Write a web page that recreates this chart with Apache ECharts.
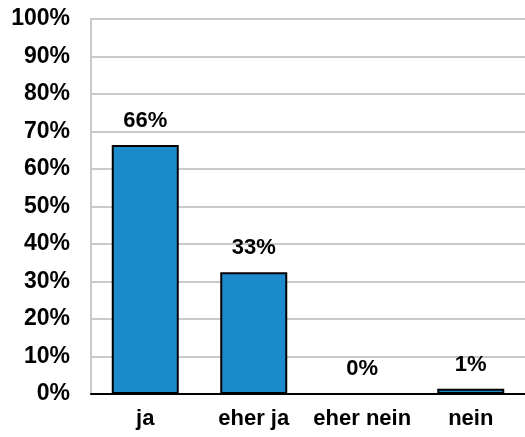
<!DOCTYPE html>
<html>
<head>
<meta charset="utf-8">
<script src="https://cdn.jsdelivr.net/npm/echarts@6/dist/echarts.min.js"></script>
<style>
  html, body { margin: 0; padding: 0; background: #fff; }
  #chart { width: 525px; height: 437px; }
</style>
</head>
<body>
<div id="chart"></div>
<script>
// Antworten
const categories = ['ja', 'eher ja', 'eher nein', 'nein'];
const values = [66.4, 32.5, 0, 1.4];
const valueLabels = ['66%', '33%', '0%', '1%'];

const myChart = echarts.init(document.getElementById('chart'));
const font = 'Liberation Sans, Arial, sans-serif';

const option = {
    animation: false,
    grid: {
        left: 91,
        top: 19,
        right: -6,
        bottom: 43
    },
    xAxis: {
        type: 'category',
        data: categories,
        axisTick: { show: false },
        axisLine: { lineStyle: { color: '#000', width: 2 } },
        axisLabel: {
            interval: 0,
            color: '#000',
            fontFamily: font,
            fontWeight: 'bold',
            fontSize: 22,
            margin: 14
        }
    },
    yAxis: {
        type: 'value',
        min: 0,
        max: 100,
        interval: 10,
        axisLine: { show: true, lineStyle: { color: '#cacaca', width: 2 } },
        axisTick: { show: false },
        splitLine: { lineStyle: { color: '#cacaca', width: 2 } },
        axisLabel: {
            color: '#000',
            fontFamily: font,
            fontWeight: 'bold',
            fontSize: 23,
            margin: 21,
            formatter: '{value}%'
        }
    },
    series: [
        {
            type: 'bar',
            data: values,
            barWidth: 67,
            itemStyle: {
                color: '#1c8bcc',
                borderColor: '#000',
                borderWidth: 2
            },
            label: {
                show: true,
                position: 'top',
                distance: 13,
                color: '#000',
                fontFamily: font,
                fontWeight: 'bold',
                fontSize: 22,
                formatter: (p) => valueLabels[p.dataIndex]
            }
        }
    ]
};

option && myChart.setOption(option);
</script>
</body>
</html>
